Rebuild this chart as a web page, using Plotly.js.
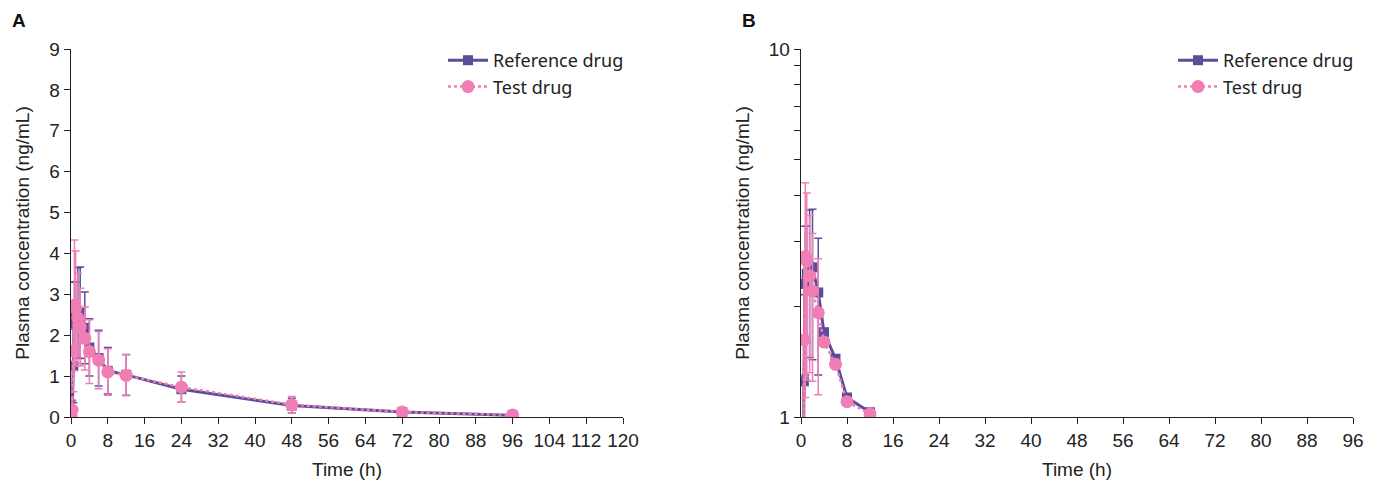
<!DOCTYPE html>
<html>
<head>
<meta charset="utf-8">
<script src="https://cdn.plot.ly/plotly-3.0.1.min.js"></script>
<style>html,body{margin:0;padding:0;background:#fff;}#chart{width:1379px;height:489px;}</style>
</head>
<body>
<div id="chart"></div>
<script>
// Sampling times (h)
const timesH = [0, 0.25, 0.5, 0.75, 1, 1.5, 2, 3, 4, 6, 8, 12, 24, 48, 72, 96];
// Reference drug mean and SD (ng/mL)
const refMean = [0, 0.10, 1.25, 2.30, 2.45, 2.55, 2.55, 2.18, 1.70, 1.44, 1.13, 1.03, 0.68, 0.28, 0.12, 0.04];
const refSD   = [0, 0.30, 0.90, 1.00, 0.85, 1.10, 1.12, 0.88, 0.70, 0.68, 0.57, 0.50, 0.32, 0.18, 0.07, 0.03];
// Test drug mean and SD (ng/mL)
const testMean = [0, 0.17, 1.62, 2.73, 2.66, 2.42, 2.20, 1.92, 1.60, 1.39, 1.10, 1.02, 0.73, 0.30, 0.12, 0.05];
const testSD   = [0, 0.25, 1.00, 1.60, 1.40, 1.10, 0.95, 0.77, 0.78, 0.70, 0.57, 0.50, 0.37, 0.20, 0.08, 0.04];
// Panel B (log scale) shows data up to 12 h, error bars up to 3 h
const logPanelLastTime = 12;
const logPanelLastErrTime = 3;

const xTicksA = [0, 8, 16, 24, 32, 40, 48, 56, 64, 72, 80, 88, 96, 104, 112, 120];
const yTicksA = [0, 1, 2, 3, 4, 5, 6, 7, 8, 9];
const xTicksB = [0, 8, 16, 24, 32, 40, 48, 56, 64, 72, 80, 88, 96];
const yTicksB = [1, 2, 3, 4, 5, 6, 7, 8, 9, 10];
const yTickTextB = ['1', '', '', '', '', '', '', '', '', '10'];

const seriesNames = ['Reference drug', 'Test drug'];
const blue = '#5a4e9c';
const pink = '#f07db3';

const nB = timesH.filter(t => t <= logPanelLastTime).length;
function errB(sd) {
  return sd.slice(0, nB).map((v, i) => timesH[i] <= logPanelLastErrTime ? v : null);
}

function refTrace(xa, ya, leg, n, err) {
  return {
    x: timesH.slice(0, n), y: refMean.slice(0, n),
    xaxis: xa, yaxis: ya, legend: leg,
    name: seriesNames[0], type: 'scatter', mode: 'lines+markers',
    line: {color: blue, width: 3},
    marker: {symbol: 'square', size: 10, color: blue},
    error_y: {type: 'data', array: err, visible: true, color: blue, thickness: 1.5, width: 4}
  };
}
function testTrace(xa, ya, leg, n, err) {
  return {
    x: timesH.slice(0, n), y: testMean.slice(0, n),
    xaxis: xa, yaxis: ya, legend: leg,
    name: seriesNames[1], type: 'scatter', mode: 'lines+markers',
    line: {color: pink, width: 2.5, dash: 'dot'},
    marker: {symbol: 'circle', size: 13, color: pink},
    error_y: {type: 'data', array: err, visible: true, color: pink, thickness: 1.5, width: 4}
  };
}

const data = [
  refTrace('x', 'y', 'legend', timesH.length, refSD),
  testTrace('x', 'y', 'legend', timesH.length, testSD),
  refTrace('x2', 'y2', 'legend2', nB, errB(refSD)),
  testTrace('x2', 'y2', 'legend2', nB, errB(testSD))
];

const tickFont = {family: 'Liberation Sans, Arial, sans-serif', size: 19, color: '#222'};
const titleFont = {family: 'Liberation Sans, Arial, sans-serif', size: 19, color: '#222'};
const legFont = {family: 'Noto Sans, sans-serif', size: 18, color: '#222'};

const yDom = [1 - 417/489, 1 - 49/489];

const layout = {
  width: 1379, height: 489,
  margin: {l: 0, r: 0, t: 0, b: 0},
  paper_bgcolor: '#fff', plot_bgcolor: '#fff',
  showlegend: true,
  xaxis: {
    domain: [71/1379, 623/1379], range: [0, 120], tickvals: xTicksA,
    showline: true, linecolor: '#222', linewidth: 1.3, ticks: 'outside', ticklen: 6, tickcolor: '#222',
    showgrid: false, zeroline: false, tickfont: tickFont,
    title: {text: 'Time (h)', font: titleFont, standoff: 12}, anchor: 'y'
  },
  yaxis: {
    domain: yDom, range: [0, 9], tickvals: yTicksA,
    showline: true, linecolor: '#222', linewidth: 1.3, ticks: 'outside', ticklen: 6, tickcolor: '#222',
    showgrid: false, zeroline: false, tickfont: tickFont,
    title: {text: 'Plasma concentration (ng/mL)', font: titleFont, standoff: 14}, anchor: 'x'
  },
  xaxis2: {
    domain: [801/1379, 1353/1379], range: [0, 96], tickvals: xTicksB,
    showline: true, linecolor: '#222', linewidth: 1.3, ticks: 'outside', ticklen: 6, tickcolor: '#222',
    showgrid: false, zeroline: false, tickfont: tickFont,
    title: {text: 'Time (h)', font: titleFont, standoff: 12}, anchor: 'y2'
  },
  yaxis2: {
    domain: yDom, type: 'log', range: [0, 1], tickvals: yTicksB, ticktext: yTickTextB,
    showline: true, linecolor: '#222', linewidth: 1.3, ticks: 'outside', ticklen: 6, tickcolor: '#222',
    showgrid: false, zeroline: false, tickfont: tickFont,
    title: {text: 'Plasma concentration (ng/mL)', font: titleFont, standoff: 14}, anchor: 'x2'
  },
  legend: {x: 443/1379, y: 1 - 42/489, xanchor: 'left', yanchor: 'top', font: legFont, bgcolor: 'rgba(0,0,0,0)', tracegroupgap: 0, itemwidth: 40},
  legend2: {x: 1173/1379, y: 1 - 42/489, xanchor: 'left', yanchor: 'top', font: legFont, bgcolor: 'rgba(0,0,0,0)', tracegroupgap: 0, itemwidth: 40},
  annotations: [
    {text: '<b>A</b>', x: 10/1379, y: 1 - 20/489, xref: 'paper', yref: 'paper', xanchor: 'left', yanchor: 'middle', showarrow: false, font: {family: 'Liberation Sans, Arial, sans-serif', size: 19, color: '#111'}},
    {text: '<b>B</b>', x: 740/1379, y: 1 - 20/489, xref: 'paper', yref: 'paper', xanchor: 'left', yanchor: 'middle', showarrow: false, font: {family: 'Liberation Sans, Arial, sans-serif', size: 19, color: '#111'}}
  ]
};

Plotly.newPlot('chart', data, layout, {displayModeBar: false, staticPlot: true});
</script>
</body>
</html>
